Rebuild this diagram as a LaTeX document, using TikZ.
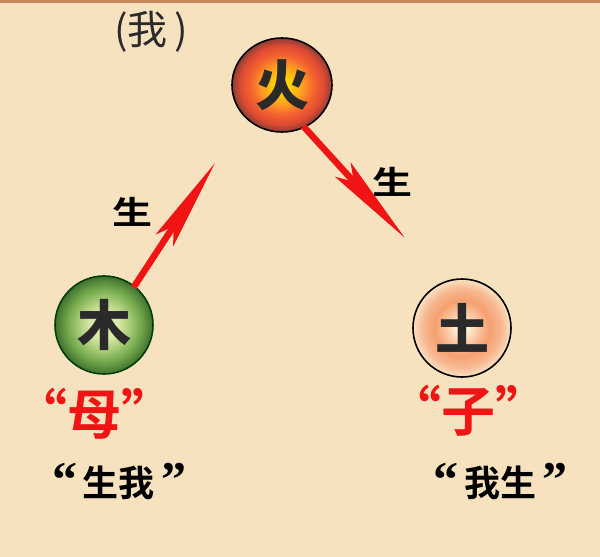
\documentclass[tikz,border=0pt]{standalone}
\usepackage{fontspec}
\newfontfamily\cjk{Noto Sans CJK SC}
\newfontfamily\cjkb{Noto Sans CJK SC Bold}
\newfontfamily\cjkblk{Noto Sans CJK SC Black}
\newfontfamily\qf{Liberation Serif Bold}
\usetikzlibrary{arrows.meta,shapes.geometric}
\definecolor{bg}{HTML}{F6E2BF}
\definecolor{topbar}{HTML}{C8855A}
\definecolor{ink}{HTML}{2A2A2A}
\definecolor{arr}{HTML}{F01414}
\definecolor{f1}{HTML}{FFD200}
\definecolor{f2}{HTML}{FFA020}
\definecolor{f3}{HTML}{F46230}
\definecolor{f4}{HTML}{DE4A32}
\definecolor{f5}{HTML}{8A3E36}
\pgfdeclareradialshading{fireshade}{\pgfpoint{0bp}{0bp}}{%
  color(0bp)=(f1); color(4bp)=(f1); color(10bp)=(f2); color(16bp)=(f3); color(21bp)=(f4); color(25bp)=(f5); color(50bp)=(f5)}
\definecolor{w1}{HTML}{DCE9A8}
\definecolor{w2}{HTML}{A8CC78}
\definecolor{w3}{HTML}{72A64A}
\definecolor{w4}{HTML}{3E7030}
\pgfdeclareradialshading{woodshade}{\pgfpoint{0bp}{0bp}}{%
  color(0bp)=(w1); color(7bp)=(w1); color(13bp)=(w2); color(19bp)=(w3); color(25bp)=(w4); color(50bp)=(w4)}
\definecolor{e1}{HTML}{FFF0D8}
\definecolor{e2}{HTML}{FAC09A}
\definecolor{e3}{HTML}{F5A070}
\definecolor{e4}{HTML}{F7B890}
\definecolor{e5}{HTML}{FAE2C4}
\pgfdeclareradialshading{earthshade}{\pgfpoint{0bp}{0bp}}{%
  color(0bp)=(e1); color(3bp)=(e1); color(9bp)=(e2); color(14bp)=(e3); color(20bp)=(e4); color(25bp)=(e5); color(50bp)=(e5)}
\tikzset{
  elem/.style={circle, minimum size=98pt, inner sep=0pt, draw=black, line width=1.6pt},
  elemtxt/.style={font=\cjkblk\fontsize{54}{54}\selectfont, text=ink},
  shengarrow/.style={arr, line width=6.5pt, -{Stealth[length=92pt,width=21pt,inset=16pt]}},
  shenglbl/.style={font=\cjkb\fontsize{40}{40}\selectfont, text=black, yscale=0.8},
  redlbl/.style={font=\cjkb\fontsize{54}{54}\selectfont, text=arr},
  quotelbl/.style={font=\cjkb\fontsize{36}{36}\selectfont, text=black}
}
\newcommand{\myLq}{{\qf\fontsize{50}{50}\selectfont “}\,}
\newcommand{\myRq}{\,{\qf\fontsize{50}{50}\selectfont ”}}
\begin{document}
\begin{tikzpicture}[x=1pt,y=-1pt]
\fill[bg] (0,0) rectangle (600,557);
\fill[topbar] (0,0) rectangle (600,3);
\useasboundingbox (0,0) rectangle (600,557);

% circles
\node[elem, ellipse, shading=fireshade, minimum width=100pt, minimum height=94pt] (fire) at (282,85) {};
\node[elem, shading=woodshade, draw=green!25!black] (wood) at (104,325) {};
\node[elem, shading=earthshade] (earth) at (462,328) {};
\node[elemtxt] (firet) at (fire) {火};
\node[elemtxt] (woodt) at (wood) {木};
\node[elemtxt] (eartht) at (earth) {土};

% arrows
\coordinate (tipL) at (215,163);
\coordinate (tipR) at (405,238);
\draw[shengarrow, shorten <=-2pt] (wood.52) -- (tipL);
\draw[shengarrow, shorten <=-2pt] (fire.-62) -- (tipR);

% labels
\node[shenglbl] (shengL) at (132,212) {生};
\node[shenglbl] (shengR) at (392,182) {生};
\node[font=\cjk\fontsize{40}{40}\selectfont, text=ink] (wo) at (151,32) {(我\,)};

\node[redlbl] (mu) at (94,414) {“母”};
\node[redlbl] (zi) at (468,411) {“子”};
\node[quotelbl] (shengwo) at (119,482) {\myLq 生我\myRq};
\node[quotelbl] (wosheng) at (500,482) {\myLq 我生\myRq};
\end{tikzpicture}
\end{document}
